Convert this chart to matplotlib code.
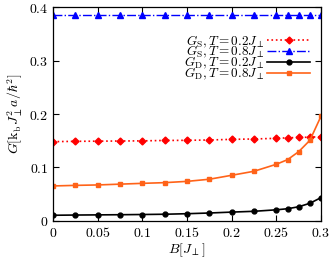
import matplotlib
matplotlib.use('Agg')
import matplotlib.pyplot as plt

plt.rcParams['mathtext.fontset'] = 'cm'
plt.rcParams['font.family'] = 'serif'
plt.rcParams['font.serif'] = ['DejaVu Serif']

B = [0, 0.025, 0.05, 0.075, 0.1, 0.125, 0.15, 0.175, 0.2, 0.225,
     0.25, 0.2625, 0.275, 0.2875, 0.3]

gs_02 = [0.1483, 0.1489, 0.1492, 0.1495, 0.1498, 0.1505, 0.1508, 0.1514,
         0.1526, 0.1533, 0.1545, 0.1555, 0.1561, 0.1567, 0.1576]
gs_08 = [0.386] * 15
gd_02 = [0.0106, 0.0110, 0.0113, 0.0116, 0.0120, 0.0125, 0.0135, 0.0148,
         0.0165, 0.0180, 0.0208, 0.0228, 0.0265, 0.0330, 0.0436]
gd_08 = [0.0654, 0.0665, 0.0673, 0.0688, 0.0703, 0.0716, 0.0740, 0.0780,
         0.0854, 0.0929, 0.1060, 0.1146, 0.1296, 0.1508, 0.1960]

labels = [r'$G_{\rm S}, T=0.2J_\perp$', r'$G_{\rm S}, T=0.8J_\perp$',
          r'$G_{\rm D}, T=0.2J_\perp$', r'$G_{\rm D}, T=0.8J_\perp$']

xticks = [0, 0.05, 0.1, 0.15, 0.2, 0.25, 0.3]
xticklabels = ['0', '0.05', '0.1', '0.15', '0.2', '0.25', '0.3']
yticks = [0, 0.1, 0.2, 0.3, 0.4]
yticklabels = ['0', '0.1', '0.2', '0.3', '0.4']

fig = plt.figure(figsize=(3.32, 2.63), dpi=100)
ax = fig.add_axes([0.16, 0.16, 0.807, 0.813])

ax.plot(B, gs_02, color='#ff0000', ls=':', lw=1.2, marker='D', ms=3.5, label=labels[0])
ax.plot(B, gs_08, color='#0000ff', ls='-.', lw=1.0, marker='^', ms=4, label=labels[1])
ax.plot(B, gd_02, color='black', ls='-', lw=1.2, marker='o', ms=3.5, label=labels[2])
ax.plot(B, gd_08, color='#ff6319', ls='-', lw=1.2, marker='s', ms=3.5, label=labels[3])

ax.set_xlim(0, 0.3)
ax.set_ylim(0, 0.4)
ax.set_xticks(xticks)
ax.set_xticklabels(['$%s$' % t for t in xticklabels])
ax.set_yticks(yticks)
ax.set_yticklabels(['$%s$' % t for t in yticklabels])
ax.tick_params(direction='in', top=True, right=True, labelsize=10, length=4, width=0.8)
for s in ax.spines.values():
    s.set_linewidth(0.9)

ax.set_xlabel(r'$B[J_\perp]$', fontsize=10, labelpad=1)
ax.set_ylabel(r'$G[{\rm k_b}J_\perp^2 a/\hbar^2]$', fontsize=10, labelpad=3)

ax.legend(loc='upper right', bbox_to_anchor=(0.995, 0.92), frameon=False,
          markerfirst=False, fontsize=9.5, labelspacing=-0.42,
          handlelength=3.3, handletextpad=0.2, borderpad=0.2)

fig.savefig('out.png', dpi=100)
